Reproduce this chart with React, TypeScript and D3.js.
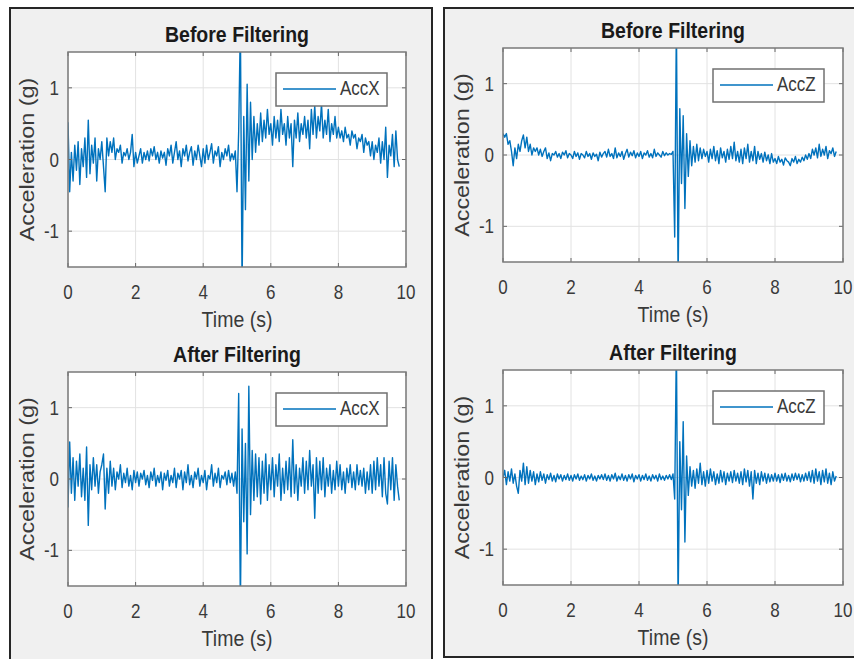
import React from 'react';
import * as d3 from 'd3';

const width = 854;
const height = 659;
const sampleStep = 0.05; // s between samples
const timeTicks = [0, 2, 4, 6, 8, 10];
const accTicks = [-1, 0, 1];

// AccX before filtering, one row per second
const accXBefore = [
  0.52, -0.45, 0.1, -0.3, 0.2, -0.15, 0.25, -0.35, 0.15, -0.1, 0.3, -0.25, 0.55, -0.2, 0.2, -0.05, 0.3, -0.3, 0.15, 0.0,
  0.25, -0.1, -0.45, 0.3, 0.05, 0.25, 0.1, 0.3, 0.0, 0.15, 0.1, 0.2, -0.05, 0.1, 0.05, 0.15, 0.0, 0.1, 0.35, -0.1,
  0.1, -0.05, 0.05, 0.15, -0.05, 0.1, 0.0, 0.12, -0.02, 0.15, 0.05, 0.18, 0.0, 0.1, -0.05, 0.12, 0.02, 0.1, -0.08, 0.15,
  0.05, 0.2, -0.05, 0.1, 0.25, 0.0, 0.12, -0.1, 0.15, 0.05, 0.2, -0.02, 0.1, 0.18, -0.08, 0.12, 0.0, 0.2, 0.05, -0.1,
  0.15, -0.05, 0.2, 0.0, 0.1, 0.22, -0.05, 0.12, 0.05, 0.18, -0.1, 0.1, 0.0, 0.15, 0.05, 0.2, -0.02, 0.08, 0.0, 0.12,
  -0.45, 0.4, 1.9, -1.8, 0.6, -0.7, 1.05, -0.3, 0.8, 0.0, 0.6, 0.1, 0.5, 0.2, 0.65, 0.25, 0.55, 0.3, 0.7, 0.35,
  0.5, 0.2, 0.6, 0.3, 0.55, 0.25, 0.7, 0.35, 0.5, 0.2, 0.6, 0.3, 0.5, -0.1, 0.55, 0.3, 0.65, 0.25, 0.5, 0.35,
  0.6, 0.3, 0.55, 0.15, 0.7, 0.35, 0.75, 0.3, 0.6, 0.4, 0.78, 0.3, 0.55, 0.35, 0.7, 0.25, 0.5, 0.35, 0.6, 0.3,
  0.45, 0.3, 0.4, 0.25, 0.45, 0.3, 0.35, 0.2, 0.4, 0.3, 0.35, 0.15, 0.3, 0.25, 0.35, 0.1, 0.3, 0.2, 0.25, 0.05,
  0.25, 0.0, 0.2, 0.1, 0.3, -0.05, 0.25, 0.0, 0.45, -0.25, 0.2, 0.05, 0.35, -0.1, 0.4, 0.0, -0.1,
];

// AccZ before filtering
const accZBefore = [
  0.3, 0.25, 0.3, 0.15, 0.2, 0.05, -0.15, 0.1, -0.05, 0.15, 0.05, 0.2, 0.28, 0.1, 0.25, 0.05, 0.15, 0.0, 0.1, 0.05,
  0.1, 0.0, 0.08, -0.02, 0.05, 0.1, -0.05, 0.03, -0.08, 0.02, 0.0, 0.05, -0.03, 0.02, -0.05, 0.04, 0.0, 0.06, -0.04, 0.02,
  0.0, -0.05, 0.05, -0.02, 0.03, -0.06, 0.02, 0.0, -0.04, 0.05, -0.02, 0.02, -0.06, 0.03, -0.02, 0.01, -0.08, 0.04, -0.03, 0.02,
  0.05, -0.03, 0.08, -0.02, 0.02, -0.05, 0.1, -0.04, 0.03, -0.02, 0.05, -0.06, 0.02, 0.08, -0.03, 0.04, -0.01, 0.06, -0.04, 0.03,
  -0.02, 0.05, -0.05, 0.03, 0.0, 0.06, -0.03, 0.02, -0.04, 0.08, -0.02, 0.03, 0.0, -0.03, 0.05, -0.01, 0.03, 0.0, 0.02, 0.01,
  0.05, -1.15, 1.9, -1.8, 0.65, -0.4, 0.55, -0.75, 0.3, -0.3, 0.2, -0.15, 0.12, -0.1, 0.15, -0.08, 0.1, -0.05, 0.08, -0.02,
  0.05, -0.1, 0.08, -0.05, 0.12, -0.08, 0.06, -0.12, 0.1, -0.04, 0.05, -0.1, 0.08, -0.06, 0.12, -0.05, 0.18, -0.08, 0.05, -0.1,
  0.08, -0.12, 0.1, -0.05, 0.15, -0.1, 0.05, -0.08, 0.12, -0.12, 0.05, -0.06, 0.02, -0.1, 0.04, -0.08, 0.0, -0.12, 0.02, -0.1,
  -0.05, -0.12, -0.02, -0.1, -0.06, -0.14, -0.04, -0.08, -0.1, -0.15, -0.05, -0.1, -0.02, -0.12, -0.06, -0.1, -0.03, -0.08, 0.0, -0.06,
  0.02, -0.05, 0.08, 0.0, 0.1, -0.04, 0.15, -0.02, 0.08, 0.0, 0.12, -0.05, 0.06, 0.02, 0.1, -0.02, 0.05,
];

// AccX after filtering
const accXAfter = [
  -0.4, 0.52, -0.2, 0.3, -0.3, 0.25, -0.1, 0.35, -0.25, 0.15, -0.3, 0.45, -0.65, 0.2, -0.15, 0.3, -0.1, 0.2, -0.2, 0.1,
  0.2, 0.35, -0.42, 0.15, -0.2, 0.25, -0.1, 0.15, -0.15, 0.1, 0.0, 0.2, -0.12, 0.08, -0.05, 0.15, -0.1, 0.05, -0.15, 0.12,
  -0.05, 0.1, -0.1, 0.08, 0.0, 0.12, -0.08, 0.05, -0.12, 0.1, -0.02, 0.15, -0.1, 0.05, -0.05, 0.1, -0.15, 0.08, -0.02, 0.12,
  -0.1, 0.05, -0.05, 0.15, -0.12, 0.08, 0.0, 0.12, -0.15, 0.1, -0.05, 0.2, -0.08, 0.05, -0.12, 0.1, 0.0, 0.15, -0.1, 0.05,
  -0.05, 0.12, -0.15, 0.05, 0.0, 0.2, -0.1, 0.08, -0.05, 0.15, -0.12, 0.05, 0.0, 0.1, -0.08, 0.12, -0.05, 0.08, -0.1, 0.1,
  -0.2, 1.2, -1.8, 0.7, -0.6, 0.5, -1.05, 1.3, -0.5, 0.4, -0.3, 0.35, -0.25, 0.3, -0.35, 0.25, -0.2, 0.35, -0.3, 0.2,
  -0.15, 0.3, -0.25, 0.2, -0.1, 0.35, -0.3, 0.15, -0.2, 0.25, -0.15, 0.3, -0.25, 0.55, -0.2, 0.2, -0.3, 0.15, -0.1, 0.3,
  -0.2, 0.25, -0.15, 0.4, -0.1, 0.2, -0.55, 0.3, -0.2, 0.25, -0.15, 0.3, -0.25, 0.15, -0.1, 0.2, -0.2, 0.12, -0.15, 0.25,
  -0.1, 0.2, -0.15, 0.1, -0.2, 0.15, -0.05, 0.2, -0.12, 0.1, -0.15, 0.2, -0.08, 0.12, -0.1, 0.15, -0.2, 0.1, -0.15, 0.2,
  -0.2, 0.25, -0.15, 0.3, -0.1, 0.2, -0.25, 0.3, -0.2, -0.35, 0.25, -0.15, 0.3, -0.3, 0.2, -0.1, -0.3,
];

// AccZ after filtering
const accZAfter = [
  0.0, 0.1, -0.1, 0.08, -0.05, 0.12, -0.08, 0.05, -0.12, -0.22, 0.1, -0.05, 0.2, -0.1, 0.15, -0.08, 0.1, -0.05, 0.08, -0.1,
  0.05, -0.06, 0.08, -0.04, 0.05, -0.08, 0.04, -0.03, 0.06, -0.05, 0.03, -0.06, 0.05, -0.02, 0.04, -0.05, 0.03, -0.03, 0.05, -0.04,
  0.03, -0.05, 0.04, -0.02, 0.05, -0.04, 0.02, -0.03, 0.04, -0.05, 0.03, -0.02, 0.05, -0.04, 0.02, -0.05, 0.03, -0.02, 0.04, -0.03,
  0.05, -0.04, 0.03, -0.05, 0.04, -0.02, 0.06, -0.05, 0.02, -0.03, 0.05, -0.04, 0.03, -0.05, 0.04, -0.02, 0.05, -0.06, 0.03, -0.02,
  0.04, -0.05, 0.03, -0.03, 0.05, -0.04, 0.02, -0.05, 0.04, -0.02, 0.03, -0.05, 0.05, -0.03, 0.02, -0.04, 0.03, -0.02, 0.04, -0.03,
  0.05, -0.3, 1.9, -1.8, 0.5, -0.45, 0.78, -0.9, 0.3, -0.25, 0.15, -0.12, 0.1, -0.15, 0.12, -0.08, 0.2, -0.1, 0.08, -0.12,
  0.1, -0.08, 0.12, -0.05, 0.08, -0.1, 0.05, -0.08, 0.1, -0.06, 0.08, -0.1, 0.06, -0.05, 0.08, -0.07, 0.1, -0.05, 0.06, -0.08,
  0.08, -0.1, 0.12, -0.06, 0.1, -0.12, 0.08, -0.3, 0.1, -0.08, 0.06, -0.1, 0.08, -0.05, 0.06, -0.08, 0.05, -0.06, 0.04, -0.05,
  0.06, -0.05, 0.04, -0.07, 0.05, -0.04, 0.06, -0.05, 0.03, -0.06, 0.05, -0.04, 0.06, -0.03, 0.05, -0.06, 0.04, -0.05, 0.06, -0.04,
  0.08, -0.06, 0.1, -0.08, 0.12, -0.05, 0.08, -0.1, 0.1, -0.06, 0.12, -0.08, 0.06, -0.1, 0.08, -0.05, 0.02,
];

const font = '"Liberation Sans", Arial, Helvetica, sans-serif';
const textStretch = 1.17; // the reference is squashed horizontally
const lineColor = '#0072BD';

type TxtProps = {
  x: number; y: number; size: number; anchor?: string; weight?: string;
  fill?: string; rotate?: boolean; children: React.ReactNode;
};

const Txt = ({ x, y, size, anchor = 'middle', weight = 'normal', fill = '#3a3a3a', rotate, children }: TxtProps) => (
  <text
    transform={`translate(${x},${y}) scale(1,${textStretch})${rotate ? ' rotate(-90)' : ''}`}
    fontFamily={font}
    fontSize={size}
    fontWeight={weight}
    textAnchor={anchor}
    fill={fill}
  >
    {children}
  </text>
);

type PlotProps = {
  id: string; left: number; right: number; top: number; bottom: number;
  values: number[]; title: string; name: string;
};

const Subplot = ({ id, left, right, top, bottom, values, title, name }: PlotProps) => {
  const x = d3.scaleLinear().domain([0, 10]).range([left, right]);
  const y = d3.scaleLinear().domain([-1.5, 1.5]).range([bottom, top]);
  const path = d3.line<number>()
    .x((_, i) => x(i * sampleStep))
    .y(d => y(d))(values) || '';
  const legX = right - 130;
  const legY = top + 21;

  return (
    <g>
      <defs>
        <clipPath id={id}>
          <rect x={left} y={top} width={right - left} height={bottom - top} />
        </clipPath>
      </defs>
      <rect x={left} y={top} width={right - left} height={bottom - top} fill="#fff" />
      {timeTicks.map(t => (
        <line key={'gx' + t} x1={x(t)} x2={x(t)} y1={top} y2={bottom} stroke="#e2e2e2" />
      ))}
      {accTicks.map(t => (
        <line key={'gy' + t} x1={left} x2={right} y1={y(t)} y2={y(t)} stroke="#e2e2e2" />
      ))}
      <g clipPath={`url(#${id})`}>
        <path d={path} fill="none" stroke={lineColor} strokeWidth={1.4} strokeLinejoin="round" filter="url(#soft)" />
      </g>
      {timeTicks.map(t => (
        <g key={'tx' + t}>
          <line x1={x(t)} x2={x(t)} y1={bottom} y2={bottom - 4} stroke="#666" />
          <line x1={x(t)} x2={x(t)} y1={top} y2={top + 4} stroke="#666" />
          <Txt x={x(t)} y={bottom + 32} size={17}>{t}</Txt>
        </g>
      ))}
      {accTicks.map(t => (
        <g key={'ty' + t}>
          <line x1={left} x2={left + 4} y1={y(t)} y2={y(t)} stroke="#666" />
          <line x1={right} x2={right - 4} y1={y(t)} y2={y(t)} stroke="#666" />
          <Txt x={left - 9} y={y(t) + 7} size={17} anchor="end">{t}</Txt>
        </g>
      ))}
      <rect x={left} y={top} width={right - left} height={bottom - top} fill="none" stroke="#7a7a7a" strokeWidth={1.5} />
      <Txt x={(left + right) / 2} y={top - 10} size={19.5} weight="bold" fill="#1a1a1a">{title}</Txt>
      <Txt x={(left + right) / 2} y={bottom + 60} size={19.5}>Time (s)</Txt>
      <Txt x={left - 34} y={(top + bottom) / 2} size={20} rotate>Acceleration (g)</Txt>
      <rect x={legX} y={legY} width={111} height={33} fill="#fff" stroke="#707070" strokeWidth={1.5} />
      <line x1={legX + 7} x2={legX + 60} y1={legY + 16} y2={legY + 16} stroke={lineColor} strokeWidth={1.3} />
      <Txt x={legX + 64} y={legY + 22} size={17} anchor="start">{name}</Txt>
    </g>
  );
};

export default function App() {
  return (
    <svg width={width} height={height} style={{ position: 'absolute', left: 0, top: 0, background: '#fff' }}>
      <defs>
        <filter id="soft" x="-5%" y="-5%" width="110%" height="110%">
          <feGaussianBlur stdDeviation={0.45} />
        </filter>
      </defs>
      <rect x={10} y={8} width={422} height={665} fill="#f0f0f0" stroke="#262626" strokeWidth={2} />
      <rect x={444} y={8} width={420} height={649} fill="#f0f0f0" stroke="#262626" strokeWidth={2} />
      <Subplot id="c1" left={68} right={406} top={52} bottom={267} values={accXBefore} title="Before Filtering" name="AccX" />
      <Subplot id="c2" left={503} right={843} top={48} bottom={262} values={accZBefore} title="Before Filtering" name="AccZ" />
      <Subplot id="c3" left={68} right={406} top={372} bottom={586} values={accXAfter} title="After Filtering" name="AccX" />
      <Subplot id="c4" left={503} right={843} top={370} bottom={585} values={accZAfter} title="After Filtering" name="AccZ" />
    </svg>
  );
}
